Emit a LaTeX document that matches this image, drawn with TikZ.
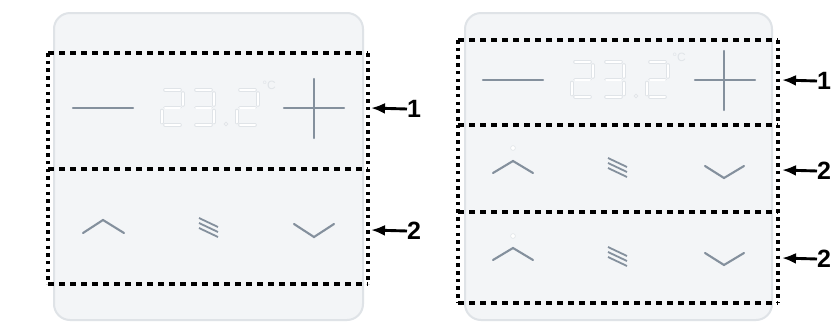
\documentclass[tikz,border=0pt]{standalone}
\usepackage{fontspec}
\setmainfont{Liberation Sans}
\usetikzlibrary{arrows.meta}
\definecolor{panelfill}{HTML}{F3F5F7}
\definecolor{panelline}{HTML}{DFE3E7}
\definecolor{icon}{HTML}{84909D}
\definecolor{segline}{HTML}{E0E4E8}
\tikzset{
  panel/.style={fill=panelfill,draw=panelline,line width=2pt,rounded corners=16pt},
  hdash/.style={line width=3.2pt,dash pattern=on 6pt off 5pt},
  vdash/.style={line width=3.2pt,dash pattern=on 3.5pt off 4.2pt},
  iconln/.style={draw=icon,line width=2.3pt,line cap=round},
  chev/.style={draw=icon,line width=2.1pt,line cap=round,line join=miter},
  menuln/.style={draw=icon,line width=1.8pt},
  lbl/.style={font=\fontsize{25}{25}\selectfont\bfseries,inner sep=0pt,anchor=west},
  arr/.style={line width=2.9pt,-{Latex[length=14pt,width=11pt]}},
}
\newcommand{\segH}[3]{% x y length
  \draw[segline,line width=3.6pt,line cap=round] (#1,#2) -- ++(#3,0);
  \draw[white,line width=2pt,line cap=round] (#1,#2) -- ++(#3,0);}
\newcommand{\segV}[3]{%
  \draw[segline,line width=3.6pt,line cap=round] (#1,#2) -- ++(0,#3);
  \draw[white,line width=2pt,line cap=round] (#1,#2) -- ++(0,#3);}
\newcommand{\digtwo}[2]{%
  \segH{#1+3}{#2}{15}\segV{#1+21}{#2+3}{12}\segH{#1+3}{#2+17.5}{15}%
  \segV{#1}{#2+20.5}{12}\segH{#1+3}{#2+35}{15}}
\newcommand{\digthree}[2]{%
  \segH{#1+3}{#2}{15}\segV{#1+21}{#2+3}{12}\segH{#1+3}{#2+17.5}{15}%
  \segV{#1+21}{#2+20.5}{12}\segH{#1+3}{#2+35}{15}}
\newcommand{\display}[2]{%
  \digtwo{162+#1}{90+#2}\digthree{193+#1}{90+#2}%
  \fill[white,draw=segline,line width=0.8pt] (226+#1,124+#2) circle (1.8);
  \digtwo{237+#1}{90+#2}%
  \node[text=segline,font=\fontsize{12}{12}\selectfont,inner sep=0pt] at (269+#1,85+#2) {°C};}
\newcommand{\menuicon}[2]{%
  \foreach \k in {0,1,2} {\draw[menuln] (#1,#2+5*\k) -- ++(19,9);}}
\begin{document}
\begin{tikzpicture}[x=1pt,y=-1pt]
\useasboundingbox (0,0) rectangle (836,322);
\fill[white] (0,0) rectangle (836,322);
% ---------- left panel ----------
\draw[panel] (54,13) rectangle (363,320);
\draw[iconln] (73,108) -- (133,108);
\draw[iconln] (284,108) -- (344,108);
\draw[iconln] (314,79) -- (314,138);
\display{0}{0}
\draw[chev] (83,233) -- (103,220) -- (124,233);
\menuicon{199}{218}
\draw[chev] (294,224) -- (314,237) -- (334,224);
\draw[hdash] (48,53) -- (368,53);
\draw[hdash] (48,169) -- (368,169);
\draw[hdash] (48,284) -- (368,284);
\draw[vdash] (48,53) -- (48,284);
\draw[vdash] (368,53) -- (368,284);
\coordinate (la1) at (371,108);
\coordinate (la2) at (371,230);
\node[lbl] (ll1) at (407,109) {1};
\node[lbl] (ll2) at (407,231) {2};
\draw[arr] (ll1.west) -- (la1);
\draw[arr] (ll2.west) -- (la2);
% ---------- right panel ----------
\draw[panel] (465,13) rectangle (772,320);
\draw[iconln] (483,80) -- (543,80);
\draw[iconln] (695,80) -- (755,80);
\draw[iconln] (724,51) -- (724,110);
\display{410}{-28}
\fill[white,draw=segline,line width=0.6pt] (513,148) circle (2.4);
\draw[chev] (493,173) -- (513,161) -- (533,173);
\menuicon{608}{158}
\draw[chev] (705,166) -- (724,178) -- (744,166);
\fill[white,draw=segline,line width=0.6pt] (513,236) circle (2.4);
\draw[chev] (493,260) -- (513,248) -- (533,260);
\menuicon{608}{247}
\draw[chev] (705,253) -- (724,265) -- (744,253);
\draw[hdash] (458,40) -- (778,40);
\draw[hdash] (458,125) -- (778,125);
\draw[hdash] (458,212) -- (778,212);
\draw[hdash] (458,303) -- (778,303);
\draw[vdash] (458,40) -- (458,303);
\draw[vdash] (778,40) -- (778,303);
\coordinate (ra1) at (782,80);
\coordinate (ra2) at (782,170);
\coordinate (ra3) at (782,258);
\node[lbl] (rl1) at (817,81) {1};
\node[lbl] (rl2) at (817,171) {2};
\node[lbl] (rl3) at (817,259) {2};
\draw[arr] (rl1.west) -- (ra1);
\draw[arr] (rl2.west) -- (ra2);
\draw[arr] (rl3.west) -- (ra3);
\end{tikzpicture}
\end{document}
